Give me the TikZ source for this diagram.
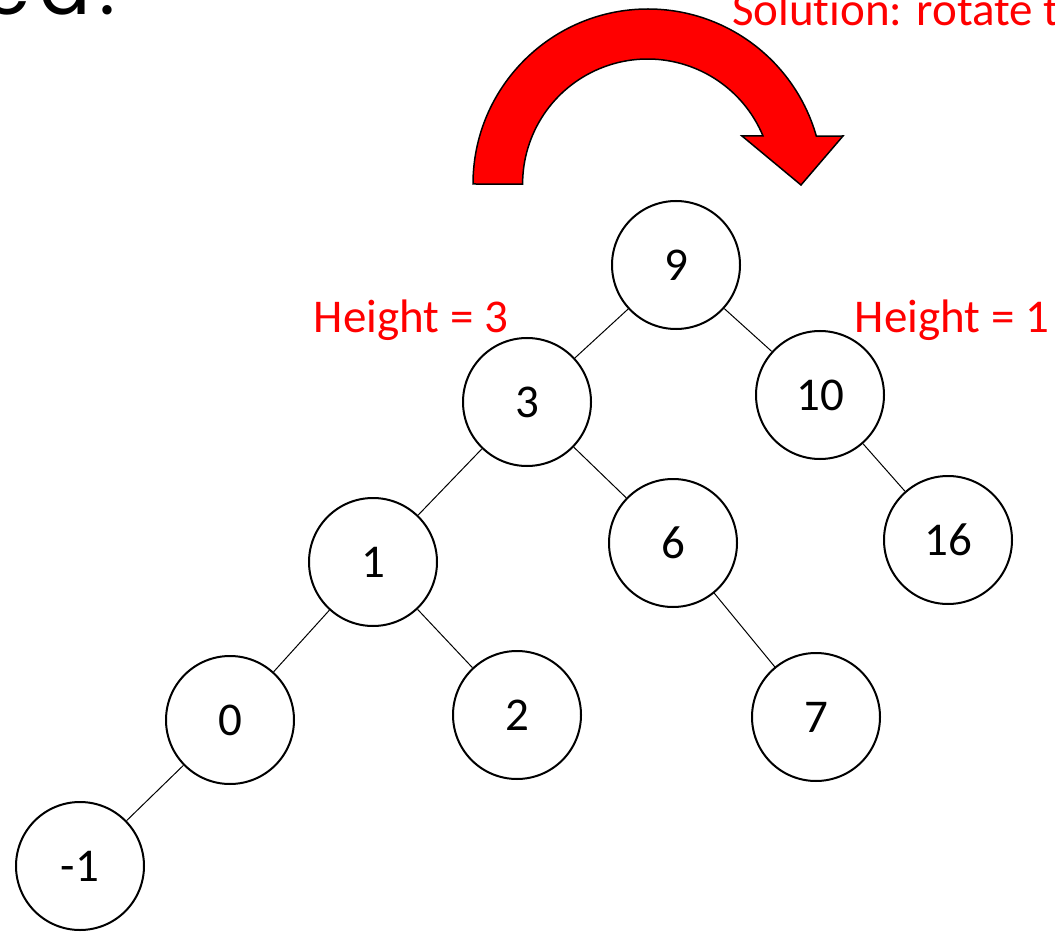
\documentclass[tikz,border=0pt]{standalone}
\usepackage{fontspec}
\setmainfont{Carlito}[Ligatures=NoCommon]
\newfontfamily\titlefont{Poppins}[LetterSpace=12]
\definecolor{pred}{RGB}{255,0,0}
\begin{document}
\begin{tikzpicture}[x=1pt,y=-1pt,
  tnode/.style={circle,draw,line width=2pt,minimum size=128pt,inner sep=0pt,font=\fontsize{47}{50}\selectfont},
  edge/.style={line width=1pt},
  lbl/.style={text=pred,font=\fontsize{47}{50}\selectfont,inner sep=0pt}]
\useasboundingbox (0,0) rectangle (1055,933);
\clip (0,0) rectangle (1055,933);
% title fragments
\node[anchor=base east,inner sep=0pt,font=\titlefont\fontsize{76}{80}\selectfont] (ttl) at (116,15) {ed.};
\node[lbl,anchor=base west] (sol) at (732,26) {Solution: rotate t};
% curved arrow
\path[fill=pred,draw=black,line width=1.5pt,line join=miter]
  (473,184) arc[start angle=180,end angle=344.1,radius=175]
  -- (843,136) -- (801,185) -- (742,136) -- (763,136)
  arc[start angle=337.4,end angle=180,radius=125] -- cycle;
% nodes
\node[tnode] (n9) at (676,265) {9};
\node[tnode] (n3) at (527,402) {3};
\node[tnode] (n10) at (820,395) {10};
\node[tnode] (n1) at (373,562) {1};
\node[tnode] (n6) at (673,543) {6};
\node[tnode] (n16) at (948,540) {16};
\node[tnode] (n0) at (230,720) {0};
\node[tnode] (n2) at (517,715) {2};
\node[tnode] (n7) at (816,717) {7};
\node[tnode] (nm1) at (80,866) {-1};
% edges
\draw[edge] (n9) -- (n3);
\draw[edge] (n9) -- (n10);
\draw[edge] (n3) -- (n1);
\draw[edge] (n3) -- (n6);
\draw[edge] (n10) -- (n16);
\draw[edge] (n1) -- (n0);
\draw[edge] (n1) -- (n2);
\draw[edge] (n6) -- (n7);
\draw[edge] (n0) -- (nm1);
% labels
\node[lbl,anchor=base] (h3) at (411,333) {Height = 3};
\node[lbl,anchor=base] (h1) at (952,333) {Height = 1};
\end{tikzpicture}
\end{document}
